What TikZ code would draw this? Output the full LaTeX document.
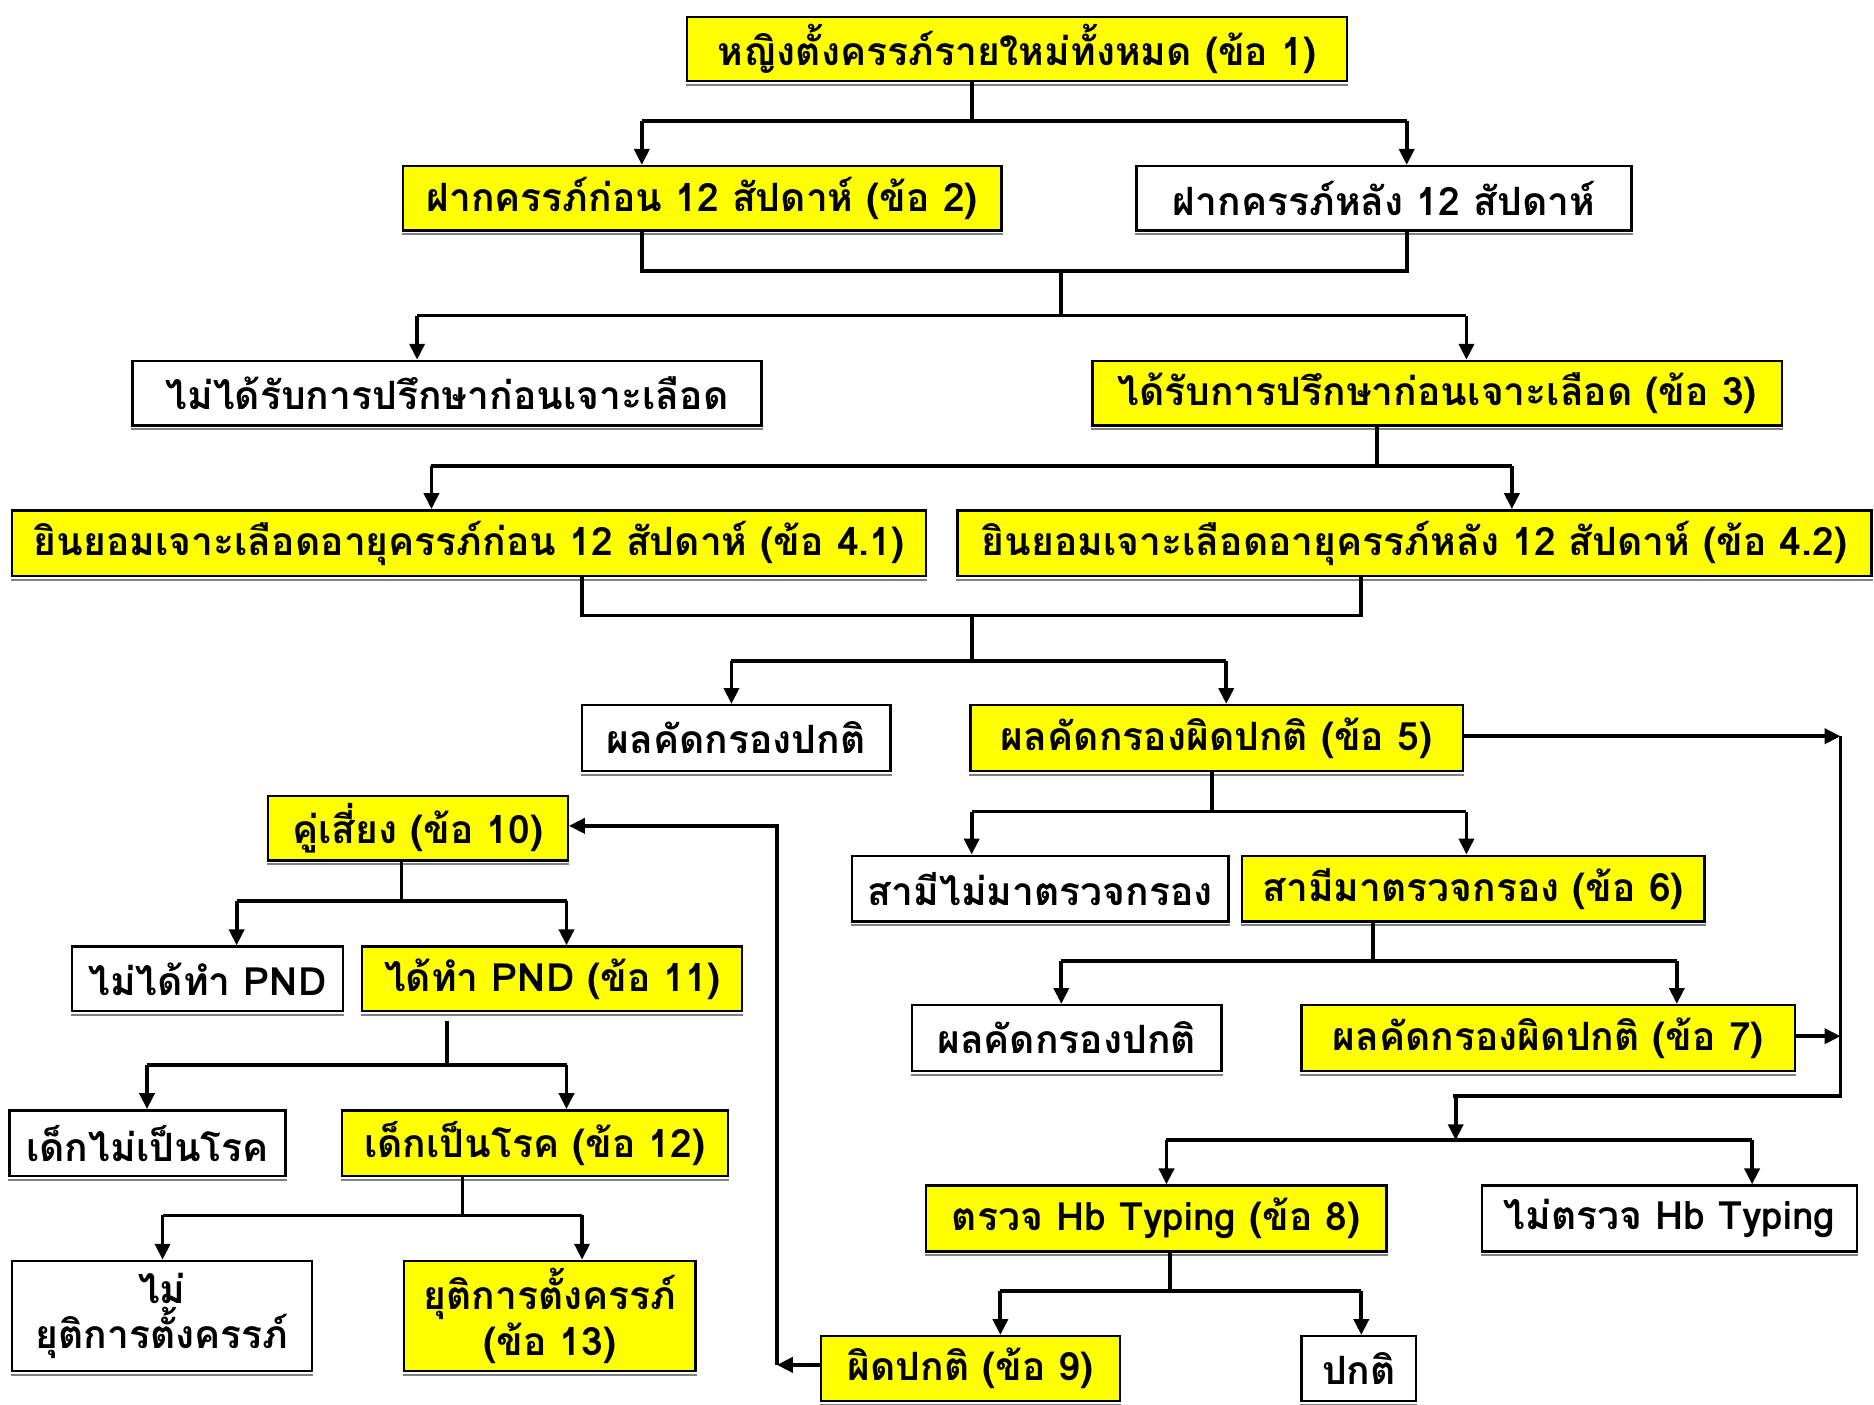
\documentclass[tikz,border=0pt]{standalone}
\usepackage{fontspec}
\newfontfamily\thaifont[Script=Thai]{Loma}
\usetikzlibrary{arrows.meta}
\definecolor{byellow}{RGB}{255,255,0}
\tikzset{
  bx/.style={draw=black, line width=1.2pt, inner sep=0pt, align=center,
    font=\thaifont\bfseries\fontsize{19.6}{23}\selectfont},
  ybx/.style={bx, fill=byellow},
  wbx/.style={bx, fill=white},
  ln/.style={line width=1.9pt},
  ar/.style={line width=1.9pt, -{Triangle[length=8pt,width=7.5pt]}},
}
\newcommand\mkbox[7]{%
  \node[#1, minimum width={(#5-#3)*0.6pt}, minimum height={(#6-#4)*0.6pt}] (#2) at ({(#3+#5)/2},{(#4+#6)/2}) {#7};
  \draw[gray, line width=1pt] ([yshift=-1.3pt]#2.south west) -- ([yshift=-1.3pt]#2.south east);
}
\begin{document}
\begin{tikzpicture}[x=0.6pt, y=-0.6pt]
\fill[white] (0,0) rectangle (1568,1175);
\useasboundingbox (0,0) rectangle (1568,1175);

% boxes
\mkbox{ybx}{n1}{575}{14}{1127}{68}{หญิงตั้งครรภ์รายใหม่ทั้งหมด (ข้อ 1)}
\mkbox{ybx}{n2}{337}{139}{838}{193}{ฝากครรภ์ก่อน 12 สัปดาห์ (ข้อ 2)}
\mkbox{wbx}{n3}{951}{139}{1365}{193}{ฝากครรภ์หลัง 12 สัปดาห์}
\mkbox{wbx}{n4}{111}{302}{637}{356}{ไม่ได้รับการปรึกษาก่อนเจาะเลือด}
\mkbox{ybx}{n5}{914}{302}{1491}{356}{ได้รับการปรึกษาก่อนเจาะเลือด (ข้อ 3)}
\mkbox{ybx}{n6}{10}{427}{775}{482}{ยินยอมเจาะเลือดอายุครรภ์ก่อน 12 สัปดาห์ (ข้อ 4.1)}
\mkbox{ybx}{n7}{801}{427}{1566}{482}{ยินยอมเจาะเลือดอายุครรภ์หลัง 12 สัปดาห์ (ข้อ 4.2)}
\mkbox{wbx}{n8}{487}{590}{745}{645}{ผลคัดกรองปกติ}
\mkbox{ybx}{n9}{812}{590}{1224}{645}{ผลคัดกรองผิดปกติ (ข้อ 5)}
\mkbox{wbx}{n10}{713}{716}{1028}{771}{สามีไม่มาตรวจกรอง}
\mkbox{ybx}{n11}{1039}{716}{1426}{771}{สามีมาตรวจกรอง (ข้อ 6)}
\mkbox{wbx}{n12}{763}{841}{1022}{896}{ผลคัดกรองปกติ}
\mkbox{ybx}{n13}{1089}{841}{1502}{896}{ผลคัดกรองผิดปกติ (ข้อ 7)}
\mkbox{ybx}{n14}{775}{992}{1160}{1047}{ตรวจ Hb Typing (ข้อ 8)}
\mkbox{wbx}{n15}{1240}{992}{1554}{1047}{ไม่ตรวจ Hb Typing}
\mkbox{ybx}{n16}{687}{1118}{937}{1172}{ผิดปกติ (ข้อ 9)}
\mkbox{wbx}{n17}{1089}{1118}{1185}{1172}{ปกติ}
\mkbox{ybx}{n18}{224}{666}{475}{720}{คู่เสี่ยง (ข้อ 10)}
\mkbox{wbx}{n19}{60}{792}{287}{846}{ไม่ได้ทำ PND}
\mkbox{ybx}{n20}{303}{792}{621}{846}{ได้ทำ PND (ข้อ 11)}
\mkbox{wbx}{n21}{8}{929}{239}{984}{เด็กไม่เป็นโรค}
\mkbox{ybx}{n22}{286}{929}{609}{984}{เด็กเป็นโรค (ข้อ 12)}
\mkbox{wbx}{n23}{10}{1055}{261}{1147}{ไม่\\ยุติการตั้งครรภ์}
\mkbox{ybx}{n24}{338}{1055}{582}{1147}{ยุติการตั้งครรภ์\\(ข้อ 13)}

% junction coordinates
\coordinate (a1) at (813,101);
\coordinate (a2) at (888,227);
\coordinate (a3) at (888,264);
\coordinate (a4) at (1152,390);
\coordinate (a5) at (813,515);
\coordinate (a6) at (813,553);
\coordinate (a7) at (1014,679);
\coordinate (a8) at (1149,804);
\coordinate (a9) at (1540,616);
\coordinate (a10) at (1540,867);
\coordinate (a11) at (1218,917);
\coordinate (a12) at (1218,954);
\coordinate (a13) at (979,1080);
\coordinate (a14) at (650,1142);
\coordinate (a15) at (336,754);
\coordinate (a16) at (374,854);
\coordinate (a17) at (374,891);
\coordinate (a18) at (387,1017);

% level 1
\draw[ln] (n1.south -| a1) -- (a1);
\draw[ln] (537,101) -- (1177,101);
\draw[ar] (537,101) -- (n2.north -| 537,0);
\draw[ar] (1177,101) -- (n3.north -| 1177,0);
% level 2
\draw[ln] (n2.south -| 537,0) -- (537,227) -- (1177,227) -- (n3.south -| 1177,0);
\draw[ln] (a2) -- (a3);
\draw[ln] (349,264) -- (1227,264);
\draw[ar] (349,264) -- (n4.north -| 349,0);
\draw[ar] (1227,264) -- (n5.north -| 1227,0);
% level 3
\draw[ln] (n5.south -| a4) -- (a4);
\draw[ln] (361,390) -- (1265,390);
\draw[ar] (361,390) -- (n6.north -| 361,0);
\draw[ar] (1265,390) -- (n7.north -| 1265,0);
% level 4
\draw[ln] (n6.south -| 487,0) -- (487,515) -- (1139,515) -- (n7.south -| 1139,0);
\draw[ln] (a5) -- (a6);
\draw[ln] (612,553) -- (1026,553);
\draw[ar] (612,553) -- (n8.north -| 612,0);
\draw[ar] (1026,553) -- (n9.north -| 1026,0);
% level 5
\draw[ln] (n9.south -| a7) -- (a7);
\draw[ln] (813,679) -- (1227,679);
\draw[ar] (813,679) -- (n10.north -| 813,0);
\draw[ar] (1227,679) -- (n11.north -| 1227,0);
% level 6
\draw[ln] (n11.south -| a8) -- (a8);
\draw[ln] (888,804) -- (1403,804);
\draw[ar] (888,804) -- (n12.north -| 888,0);
\draw[ar] (1403,804) -- (n13.north -| 1403,0);
% right side loop
\draw[ar] (n9.east |- a9) -- (a9);
\draw[ar] (n13.east |- a10) -- (a10);
\draw[ln] (a9) -- (1540,917) -- (1216,917);
\draw[ar] (a11) -- (a12);
\draw[ln] (976,954) -- (1466,954);
\draw[ar] (976,954) -- (n14.north -| 976,0);
\draw[ar] (1466,954) -- (n15.north -| 1466,0);
% level 8
\draw[ln] (n14.south -| a13) -- (a13);
\draw[ln] (837,1080) -- (1139,1080);
\draw[ar] (837,1080) -- (n16.north -| 837,0);
\draw[ar] (1139,1080) -- (n17.north -| 1139,0);
% back to left
\draw[ar] (n16.west |- a14) -- (a14);
\draw[ar] (a14) -- (650,691) -- (n18.east |- 0,691);
% left tree
\draw[ln] (n18.south -| a15) -- (a15);
\draw[ln] (198,754) -- (474,754);
\draw[ar] (198,754) -- (n19.north -| 198,0);
\draw[ar] (474,754) -- (n20.north -| 474,0);
\draw[ln] (a16) -- (a17);
\draw[ln] (123,891) -- (474,891);
\draw[ar] (123,891) -- (n21.north -| 123,0);
\draw[ar] (474,891) -- (n22.north -| 474,0);
\draw[ln] (n22.south -| a18) -- (a18);
\draw[ln] (136,1017) -- (487,1017);
\draw[ar] (136,1017) -- (n23.north -| 136,0);
\draw[ar] (487,1017) -- (n24.north -| 487,0);
\end{tikzpicture}
\end{document}
